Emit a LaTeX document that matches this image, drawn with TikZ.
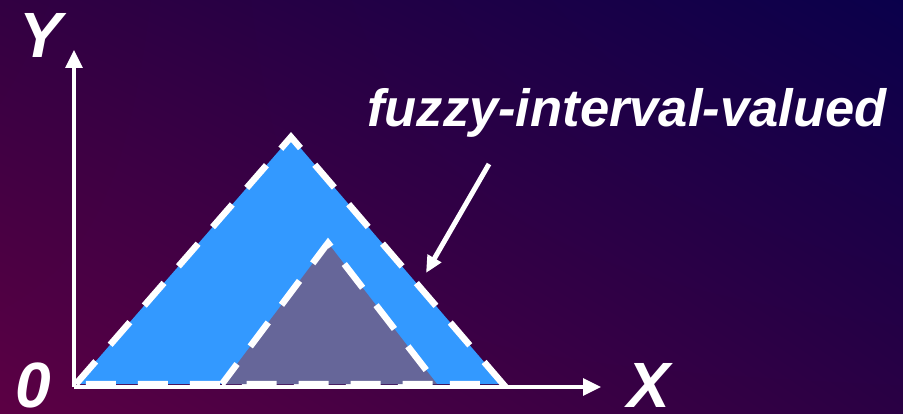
\documentclass[tikz,border=0pt]{standalone}
\usepackage{fontspec}
\setmainfont{Liberation Sans}
\usepackage{xcolor}
\definecolor{bgtopleft}{RGB}{50,0,66}
\definecolor{bgtopright}{RGB}{10,0,75}
\definecolor{bgbottomleft}{RGB}{92,0,68}
\definecolor{bgbottomright}{RGB}{42,0,68}
\definecolor{outerblue}{RGB}{51,153,255}
\definecolor{innergrey}{RGB}{102,102,153}
\usetikzlibrary{arrows.meta,shadings}

\begin{document}
\begin{tikzpicture}[x=1pt, y=-1pt, every node/.style={color=white, inner sep=0pt, font=\fontsize{64}{70}\selectfont\bfseries\itshape}]
  \shade[upper left=bgtopleft, upper right=bgtopright, lower left=bgbottomleft, lower right=bgbottomright] (0,0) rectangle (903,414);
  \useasboundingbox (0,0) rectangle (903,414);
  % the two membership triangles
  \filldraw[fill=outerblue, draw=white, line width=6.5pt, dash pattern=on 30pt off 22pt] (76,384) -- (291,137) -- (503,384) -- cycle;
  \filldraw[fill=innergrey, draw=white, line width=6.5pt, dash pattern=on 30pt off 22pt, dash phase=5pt] (222,384) -- (328,243) -- (437,384) -- cycle;
  % axes
  \coordinate (origin) at (74,387);
  \coordinate (ytip) at (74,50);
  \coordinate (xtip) at (601,387);
  \draw[white, line width=3.2pt, -{Triangle[length=18pt, width=17pt]}] (origin) -- (ytip);
  \draw[white, line width=3.2pt, -{Triangle[length=18pt, width=17pt]}] (origin) -- (xtip);
  \node (ylabel) at (41,35) {Y};
  \node (xlabel) at (649,385) {X};
  \node (zerolabel) at (33,385) {0};
  % callout
  \node[anchor=base west, font=\fontsize{52.5}{60}\selectfont\bfseries\itshape] (callout) at (367,127) {fuzzy-interval-valued};
  \coordinate (calloutstart) at (489,164);
  \coordinate (calloutend) at (426,273);
  \draw[white, line width=5pt, -{Triangle[length=17pt, width=15pt]}] (calloutstart) -- (calloutend);
\end{tikzpicture}
\end{document}
